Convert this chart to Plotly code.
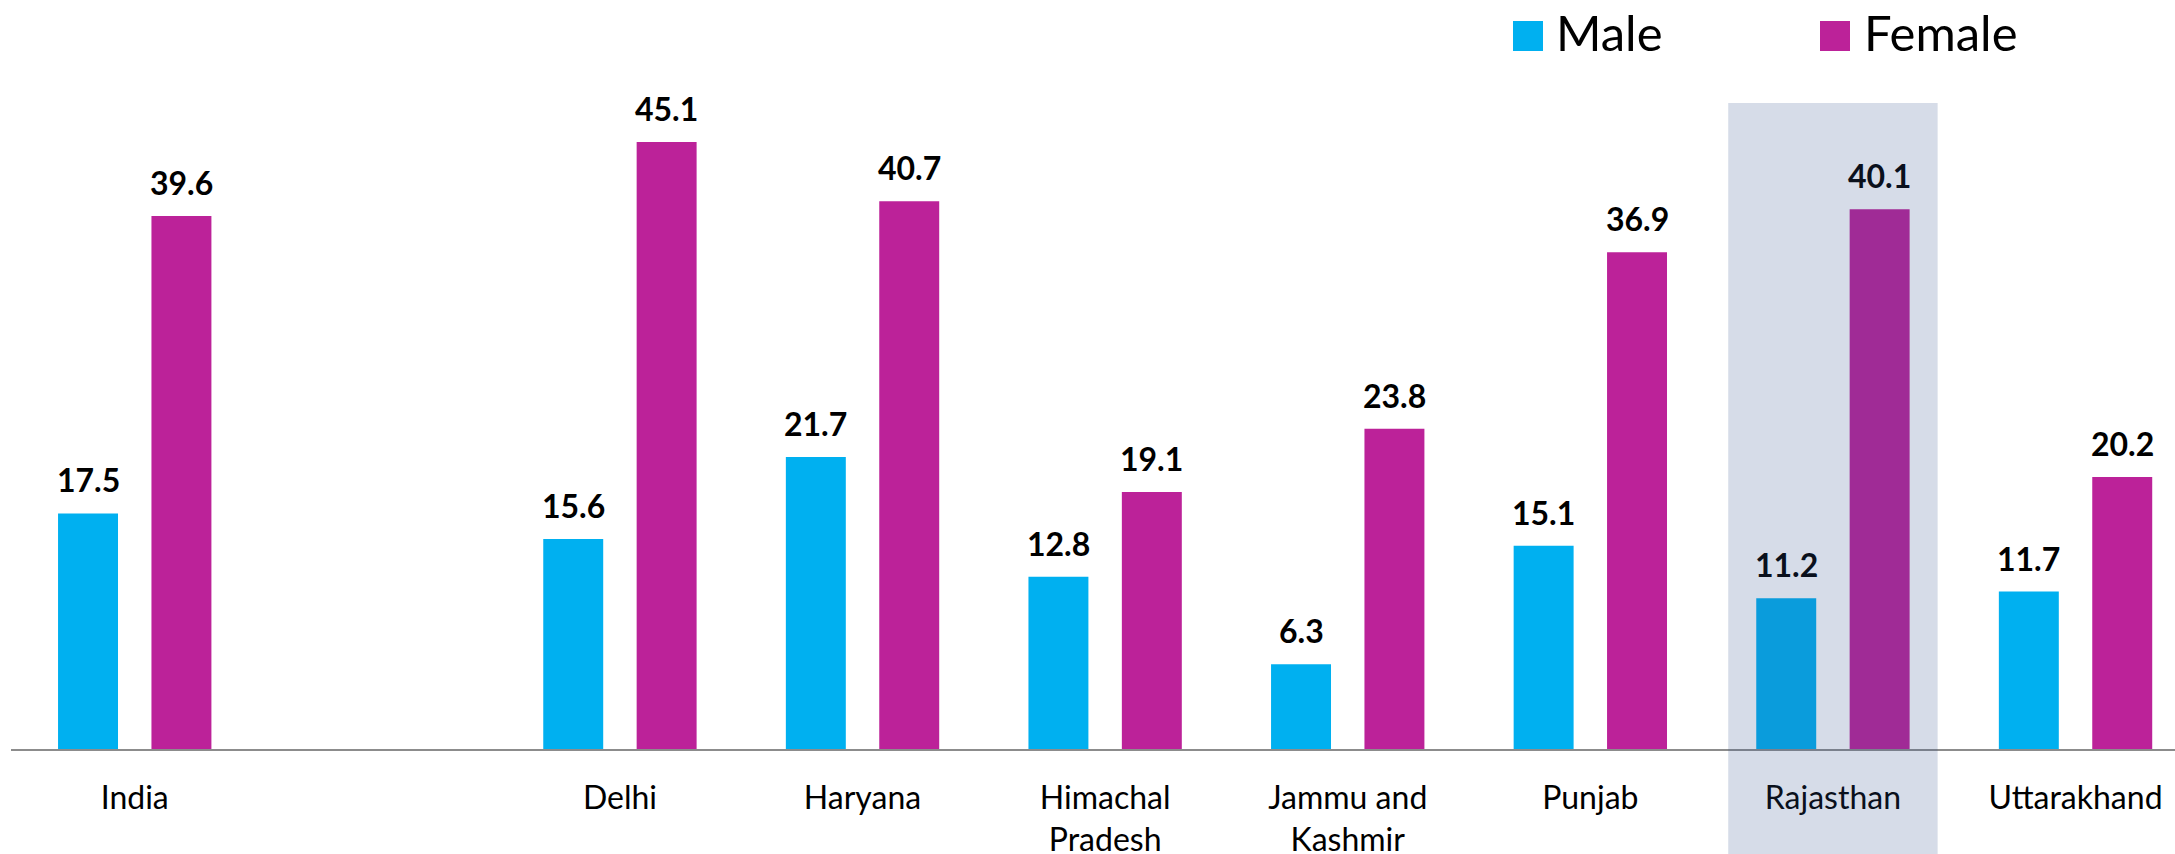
import plotly.graph_objects as go

# ---- data ----
categories = ["India", " ", "Delhi", "Haryana", "Himachal Pradesh",
              "Jammu and Kashmir", "Punjab", "Rajasthan", "Uttarakhand"]
tick_labels = ["India", "", "Delhi", "Haryana", "Himachal<br>Pradesh",
               "Jammu and<br>Kashmir", "Punjab", "Rajasthan", "Uttarakhand"]
male = [17.5, None, 15.6, 21.7, 12.8, 6.3, 15.1, 11.2, 11.7]
female = [39.6, None, 45.1, 40.7, 19.1, 23.8, 36.9, 40.1, 20.2]
highlight = "Rajasthan"

# ---- style ----
W, H = 2175, 854
ML, MR, MT, MB = 11, 0, 76, 105
X_RANGE = [-0.51, 8.41]
Y_MAX = 50
BARGAP, BARGROUPGAP = 0.23, 0.358
MALE_C, FEMALE_C = "#00B0F0", "#BC2299"
OVERLAY_RGB, OVERLAY_A = (50, 80, 140), 0.2
FONT = "Lato"

plot_w = W - ML - MR
plot_h = H - MT - MB
px_per_cat = plot_w / (X_RANGE[1] - X_RANGE[0])
slot = (1 - BARGAP) / 2
offset_px = slot / 2 * px_per_cat

# label colour seen through the translucent highlight overlay
shaded_black = "rgb({},{},{})".format(*[round(OVERLAY_A * c) for c in OVERLAY_RGB])


def px_x(px):
    return (px - ML) / plot_w


def px_y(py):
    return (H - MB - py) / plot_h


fig = go.Figure()
fig.add_bar(x=categories, y=male, name="Male", marker_color=MALE_C,
            marker_line_width=0, showlegend=False)
fig.add_bar(x=categories, y=female, name="Female", marker_color=FEMALE_C,
            marker_line_width=0, showlegend=False)

annotations = []
for cat, m, f in zip(categories, male, female):
    for val, sign in ((m, -1), (f, 1)):
        if val is None:
            continue
        col = shaded_black if cat == highlight else "#000000"
        annotations.append(dict(
            x=cat, y=val, xref="x", yref="y", text=f"{val:.1f}",
            showarrow=False, xanchor="center", yanchor="bottom",
            xshift=sign * offset_px, yshift=12,
            font=dict(family=FONT, size=32, color=col, weight="bold")))

# manual legend (large squares)
legend_items = [("Male", MALE_C, 1513, 1554), ("Female", FEMALE_C, 1820, 1862)]
shapes = []
for name, col, sq_x, tx in legend_items:
    shapes.append(dict(type="rect", xref="paper", yref="paper",
                       x0=px_x(sq_x), x1=px_x(sq_x + 30),
                       y0=px_y(51), y1=px_y(21),
                       fillcolor=col, line_width=0, layer="above"))
    annotations.append(dict(x=px_x(tx), y=px_y(32), xref="paper", yref="paper",
                            text=name, showarrow=False, xanchor="left",
                            yanchor="middle",
                            font=dict(family=FONT, size=49, color="#000000")))

# highlight overlay
hi = categories.index(highlight)
shapes.append(dict(type="rect", xref="x", yref="paper",
                   x0=hi - 0.4316, x1=hi + 0.4316,
                   y0=-MB / plot_h - 0.01, y1=48.0 / Y_MAX,
                   fillcolor="rgba({},{},{},{})".format(*OVERLAY_RGB, OVERLAY_A),
                   line_width=0, layer="above"))

fig.update_layout(
    width=W, height=H,
    margin=dict(l=ML, r=MR, t=MT, b=MB, pad=0, autoexpand=False),
    paper_bgcolor="white", plot_bgcolor="white",
    barmode="group", bargap=BARGAP, bargroupgap=BARGROUPGAP,
    font=dict(family=FONT, color="#000000"),
    showlegend=False,
    annotations=annotations, shapes=shapes,
)
fig.update_xaxes(type="category", range=X_RANGE, tickvals=categories,
                 ticktext=tick_labels, showline=True, linecolor="#8C8C8C",
                 linewidth=1.5, ticks="", showgrid=False, zeroline=False,
                 automargin=False,
                 tickfont=dict(family=FONT, size=32, color="#000000"),
                 ticklabelstandoff=20)
fig.update_yaxes(range=[0, Y_MAX], visible=False, showgrid=False,
                 zeroline=False, automargin=False)

fig.write_html("out.html")
